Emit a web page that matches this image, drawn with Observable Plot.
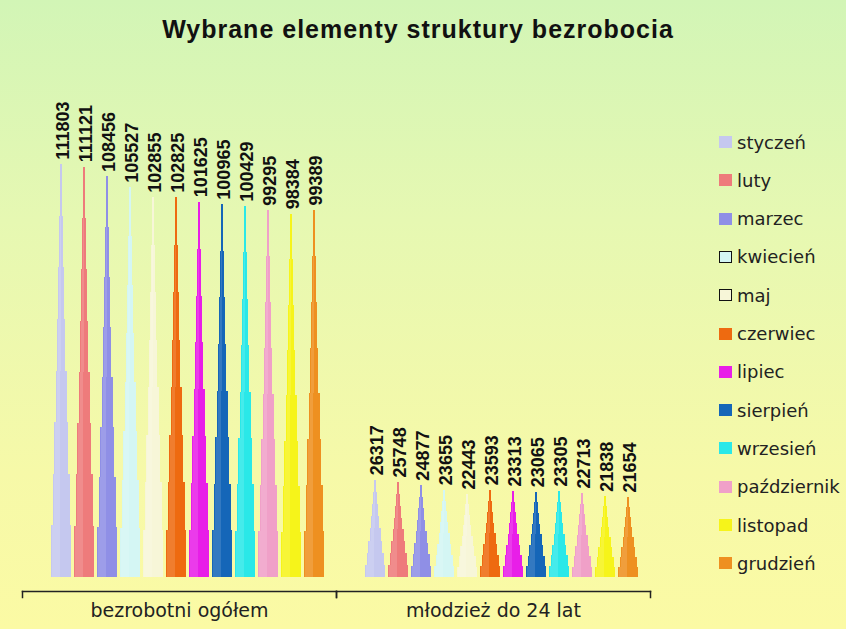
<!DOCTYPE html>
<html>
<head>
<meta charset="utf-8">
<script src="https://cdn.jsdelivr.net/npm/d3@7"></script>
<script src="https://cdn.jsdelivr.net/npm/@observablehq/plot@0.6"></script>
<style>
  html, body { margin: 0; padding: 0; }
  #wrap {
    position: relative; width: 846px; height: 629px; overflow: hidden;
    background: linear-gradient(to bottom, #d2f5b6 0%, #e6f8b2 35%, #f6f9a8 75%, #fbfaa4 100%);
  }
  #title {
    position: absolute; left: -5px; top: 15px; width: 846px; text-align: center;
    font-family: "Liberation Sans", Arial, sans-serif; font-weight: bold; font-size: 25px;
    letter-spacing: 1px; line-height: 28px; color: #111;
  }
  #chart { position: absolute; left: 0; top: 0; }
  #legend { position: absolute; left: 719px; top: 0; }
  .li { position: absolute; left: 0; display: flex; align-items: center; white-space: nowrap;
        font-family: "DejaVu Sans", sans-serif; font-size: 18px; color: #222; height: 24px; }
  .sw { width: 13px; height: 12px; margin-right: 5px; box-sizing: border-box; }
</style>
</head>
<body>
<div id="wrap">
  <div id="chart"></div>
  <div id="title">Wybrane elementy struktury bezrobocia</div>
  <div id="legend"></div>
</div>
<script>
const groups = ["bezrobotni ogółem", "młodzież do 24 lat"];
const months = ["styczeń", "luty", "marzec", "kwiecień", "maj", "czerwiec", "lipiec", "sierpień", "wrzesień", "październik", "listopad", "grudzień"];
const ogolem = [111803, 111121, 108456, 105527, 102855, 102825, 101625, 100965, 100429, 99295, 98384, 99389];
const mlodziez = [26317, 25748, 24877, 23655, 22443, 23593, 23313, 23065, 23305, 22713, 21838, 21654];
const colors = ["#c5c8ef", "#ee7b7b", "#8f8fe6", "#d4f6f4", "#f7f6d8", "#ee6a10", "#e81ee8", "#1566b8", "#2ae8e8", "#f0a0c8", "#f6f41a", "#ee9020"];
const outlined = ["kwiecień", "maj"];

const data = [];
groups.forEach((g, gi) => {
  const vals = gi === 0 ? ogolem : mlodziez;
  months.forEach((m, i) => data.push({group: g, month: m, value: vals[i]}));
});

// stepped-cone look: each bar drawn as stacked steps of shrinking width
const stepInsets = [0, 1.5, 3, 4.5, 6, 7, 8, 9];
const nSeg = stepInsets.length;
const segMarks = [];
stepInsets.forEach((ins, k) => {
  const seg = {
    x: "month", fx: "group",
    y1: d => d.value * k / nSeg,
    y2: d => d.value * (k + 1) / nSeg,
    shapeRendering: "crispEdges"
  };
  segMarks.push(Plot.barY(data, {...seg, fill: "month", insetLeft: ins, insetRight: ins}));
  if (k < nSeg - 1) {
    segMarks.push(Plot.barY(data, {...seg, fill: "white", fillOpacity: 0.13,
      insetLeft: ins + 1, insetRight: ins + (20 - 2 * ins) * 0.55}));
  }
});

const chart = Plot.plot({
  width: 846, height: 629,
  marginTop: 60, marginBottom: 38, marginLeft: 22, marginRight: 196,
  style: {background: "transparent", fontFamily: "DejaVu Sans, sans-serif", fontSize: "18px", color: "#222"},
  fx: {domain: groups, padding: 0, label: null},
  x: {domain: months, padding: 0.13, insetLeft: 25, insetRight: 7, axis: null},
  y: {domain: [0, 140000], insetBottom: 14, axis: null},
  color: {domain: months, range: colors},
  marks: [
    ...segMarks,
    Plot.text(data, {
      x: "month", fx: "group", y: "value", text: d => String(d.value),
      rotate: -90, textAnchor: "start", dy: -5, dx: 2,
      fontFamily: "Liberation Sans, Arial, sans-serif", fontWeight: "bold", fontSize: 18, fill: "#111"
    }),
    Plot.frame({anchor: "bottom", stroke: "#222", strokeWidth: 1.5}),
    Plot.frame({anchor: "left", stroke: "#222", strokeWidth: 1.5, insetTop: 531, insetBottom: -6}),
    Plot.frame({anchor: "right", stroke: "#222", strokeWidth: 1.5, insetTop: 531, insetBottom: -6}),
    Plot.axisFx({anchor: "bottom", tickSize: 0, tickPadding: 12, label: null, fontSize: 19})
  ]
});
document.getElementById("chart").appendChild(chart);

const legend = document.getElementById("legend");
months.forEach((m, i) => {
  const row = document.createElement("div");
  row.className = "li";
  row.style.top = (142 + i * 38.3 - 12) + "px";
  const sw = document.createElement("span");
  sw.className = "sw";
  sw.style.background = colors[i];
  if (outlined.includes(m)) sw.style.border = "1.5px solid #111";
  row.appendChild(sw);
  row.appendChild(document.createTextNode(m));
  legend.appendChild(row);
});
</script>
</body>
</html>
